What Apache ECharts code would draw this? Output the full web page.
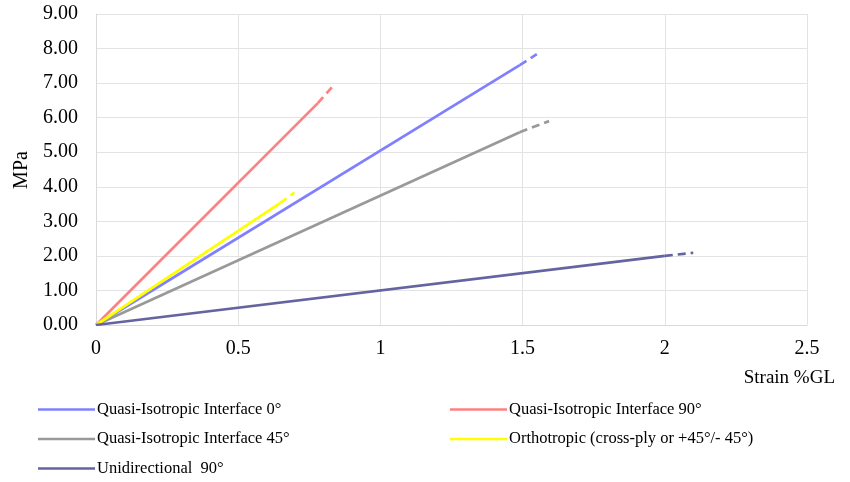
<!DOCTYPE html>
<html>
<head>
<meta charset="utf-8">
<script src="https://cdn.jsdelivr.net/npm/echarts@6/dist/echarts.min.js"></script>
<style>html,body{margin:0;padding:0;background:#fff;}#c{width:850px;height:482px;}</style>
</head>
<body>
<div id="c"></div>
<script>
// Data: [strain %GL, MPa]; first two points solid, last segment dashed
const names = [
  'Quasi-Isotropic Interface 0°',
  'Quasi-Isotropic Interface 90°',
  'Quasi-Isotropic Interface 45°',
  'Orthotropic (cross-ply or +45°/- 45°)',
  'Unidirectional  90°'
];
const qi0 = [[0, 0], [1.49, 7.52], [1.55, 7.84]];
const qi90 = [[0, 0], [0.78, 6.42], [0.835, 6.93]];
const qi45 = [[0, 0], [1.49, 5.58], [1.593, 5.90]];
const ortho = [[0, 0], [0.647, 3.53], [0.698, 3.83]];
const ud90 = [[0, 0], [2.0, 2.0], [2.1, 2.09]];
const xTicks = [0, 0.5, 1, 1.5, 2, 2.5];
const yTicks = [0, 1, 2, 3, 4, 5, 6, 7, 8, 9];

const colors = ['#8080ff', '#ff8080', '#999999', '#ffff00', '#6464a0'];
const datasets = [qi0, qi90, qi45, ortho, ud90];
const font = 'Liberation Serif';

const series = [];
datasets.forEach((d, i) => {
  series.push({
    name: names[i], type: 'line', data: d.slice(0, 2), showSymbol: false, symbol: 'none',
    lineStyle: { color: colors[i], width: 2.7 }, itemStyle: { color: colors[i] },
    animation: false, z: 2 + i
  });
  series.push({
    name: names[i] + ' trend', type: 'line', data: d.slice(1), showSymbol: false, symbol: 'none',
    lineStyle: { color: colors[i], width: 2.7, type: [8, 5] }, itemStyle: { color: colors[i] },
    animation: false, z: 2 + i
  });
});

const chart = echarts.init(document.getElementById('c'), null, { renderer: 'canvas' });
const legendCommon = {
  orient: 'vertical', itemWidth: 57, itemHeight: 14, itemGap: 12.5, height: 120, padding: 0,
  icon: 'path://M0,6 L57,6 L57,8.5 L0,8.5 Z',
  textStyle: { fontFamily: font, fontSize: 16.5, color: '#000', padding: [0, 0, 0, -3] },
  selectedMode: false
};
chart.setOption({
  animation: false,
  grid: { left: 96, right: 43, top: 14, bottom: 157, containLabel: false },
  xAxis: {
    type: 'value', min: 0, max: 2.5, interval: 0.5,
    axisLine: { show: true, lineStyle: { color: '#d9d9d9', width: 1 } },
    axisTick: { show: false },
    splitLine: { show: true, lineStyle: { color: '#e3e3e3', width: 1 } },
    axisLabel: { fontFamily: font, fontSize: 20, color: '#000', margin: 14,
      formatter: v => String(v) }
  },
  yAxis: {
    type: 'value', min: 0, max: 9, interval: 1,
    axisLine: { show: true, lineStyle: { color: '#d9d9d9', width: 1 } },
    axisTick: { show: false },
    splitLine: { show: true, lineStyle: { color: '#e3e3e3', width: 1 } },
    axisLabel: { fontFamily: font, fontSize: 20, color: '#000', margin: 18,
      formatter: v => v.toFixed(2) }
  },
  legend: [
    Object.assign({ data: [names[0], names[2], names[4]], left: 38, top: 401 }, legendCommon),
    Object.assign({ data: [names[1], names[3]], left: 450, top: 401 }, legendCommon)
  ],
  graphic: [
    { type: 'text', x: 835, y: 378, style: { text: 'Strain %GL', font: '19px "Liberation Serif"', fill: '#000', align: 'right', verticalAlign: 'middle' } },
    { type: 'text', x: 22, y: 170, rotation: Math.PI / 2, style: { text: 'MPa', font: '20px "Liberation Serif"', fill: '#000', align: 'center', verticalAlign: 'middle' } }
  ],
  series: series
});
</script>
</body>
</html>
